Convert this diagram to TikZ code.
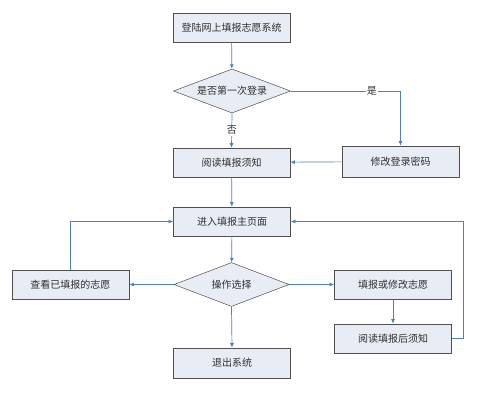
\documentclass[tikz,border=0pt]{standalone}
\usepackage{fontspec}
\newfontfamily\cjk{Noto Sans CJK SC}
\usetikzlibrary{shapes.geometric,arrows.meta}
\definecolor{boxfill}{HTML}{E8ECF5}
\definecolor{boxline}{HTML}{505050}
\definecolor{arrowc}{HTML}{4F7FBC}
\definecolor{textc}{HTML}{303030}
\tikzset{
  stepbox/.style={draw=boxline, fill=boxfill, line width=0.7pt, minimum width=117pt, minimum height=29pt, inner sep=0pt, font=\cjk\fontsize{10}{12}\selectfont, text=textc},
  choice/.style={diamond, draw=boxline, fill=boxfill, line width=0.5pt, minimum width=117pt, minimum height=44pt, inner sep=0pt, aspect=2.7, font=\cjk\fontsize{10}{12}\selectfont, text=textc},
  conn/.style={draw=arrowc, line width=0.7pt, -{Latex[length=4.5pt,width=4pt]}},
  lab/.style={fill=white, inner sep=1pt, font=\cjk\fontsize{10}{12}\selectfont, text=textc}
}
\begin{document}
\begin{tikzpicture}[x=1pt,y=-1pt]
\useasboundingbox (0,0) rectangle (501,400);
\fill[white] (0,0) rectangle (501,400);
\node[stepbox] (n1) at (231.5,28) {登陆网上填报志愿系统};
\node[choice] (d1) at (232,91) {是否第一次登录};
\node[stepbox] (n2) at (231.5,162.5) {阅读填报须知};
\node[stepbox, minimum height=31pt] (n3) at (400.5,161.5) {修改登录密码};
\node[stepbox] (n4) at (232,221.5) {进入填报主页面};
\node[choice, minimum width=115pt] (d2) at (231.5,284.5) {操作选择};
\node[stepbox] (n5) at (70.5,284.5) {查看已填报的志愿};
\node[stepbox] (n6) at (393,284.5) {填报或修改志愿};
\node[stepbox] (n7) at (393,338.5) {阅读填报后须知};
\node[stepbox, minimum height=30pt] (n8) at (232,363) {退出系统};
\coordinate (rloop) at (463,338.5);

\draw[conn] (n1) -- (d1);
\draw[conn] (d1.east) -| node[lab, pos=0.37] {是} (n3.north);
\draw[conn] (d1.south) -- node[lab, pos=0.5] {否} (n2.north);
\draw[conn] (n3) -- (n2);
\draw[conn] (n2) -- (n4);
\draw[conn] (n4) -- (d2);
\draw[conn] (d2.west) -- (n5.east);
\draw[conn] (d2.east) -- (n6.west);
\draw[conn] (d2.south) -- (n8.north);
\draw[conn] (n6) -- (n7);
\draw[conn] (n5.north) |- (n4.west);
\draw[conn] (n7.east) -- (rloop) |- (n4.east);
\end{tikzpicture}
\end{document}
